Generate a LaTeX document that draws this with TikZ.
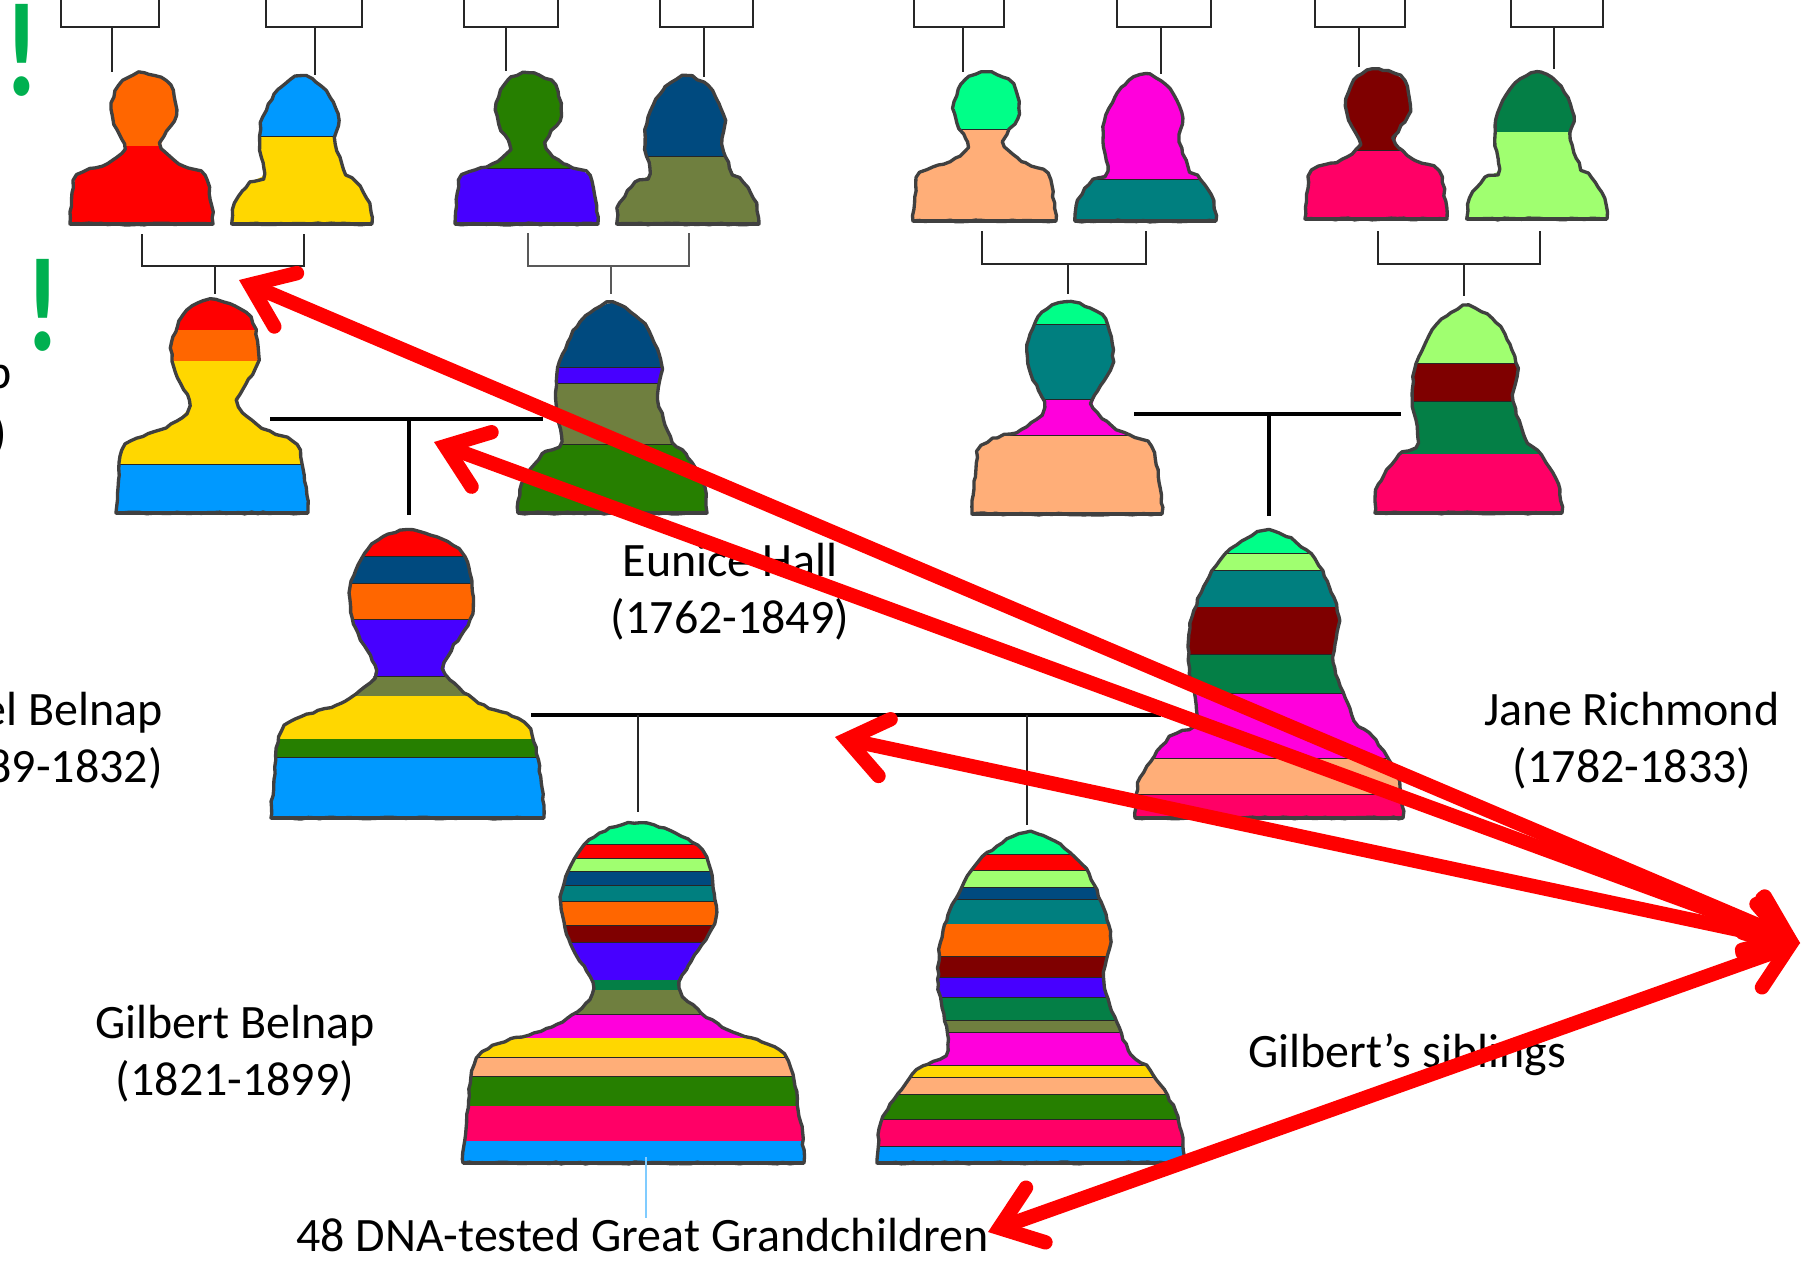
\documentclass[tikz,border=0pt]{standalone}
\usepackage{fontspec}
\setmainfont{Carlito}
\usetikzlibrary{arrows.meta,decorations.pathmorphing}

\definecolor{cRed}{HTML}{FF0000}
\definecolor{cOrange}{HTML}{FF6600}
\definecolor{cBlue}{HTML}{0099FF}
\definecolor{cYellow}{HTML}{FFD700}
\definecolor{cGreen}{HTML}{267F00}
\definecolor{cPurple}{HTML}{4700FF}
\definecolor{cNavy}{HTML}{004A7F}
\definecolor{cOlive}{HTML}{6F7F3F}
\definecolor{cMint}{HTML}{00FF88}
\definecolor{cMagenta}{HTML}{FF00DC}
\definecolor{cTan}{HTML}{FFAE78}
\definecolor{cTeal}{HTML}{007F7F}
\definecolor{cDkred}{HTML}{7F0000}
\definecolor{cPink}{HTML}{FF0066}
\definecolor{cDkgreen}{HTML}{047F46}
\definecolor{cLtgreen}{HTML}{A0FF70}
\definecolor{cExcl}{HTML}{00B050}

\def\malepath{plot[smooth] coordinates {(1,1) (.99,.88) (.94,.68) (.76,.60) (.64,.50) (.66,.42) (.74,.28) (.70,.08) (.52,0) (.37,.05) (.29,.20) (.31,.34) (.38,.47) (.36,.53) (.26,.60) (.05,.68) (.01,.88) (0,1)}}
\def\femalepath{plot[smooth] coordinates {(1,1) (.98,.86) (.89,.72) (.82,.66) (.74,.46) (.76,.30) (.67,.10) (.50,0) (.33,.09) (.22,.28) (.20,.46) (.23,.66) (.13,.72) (.02,.86) (0,1)}}

% name, outline, left, top, right, bottom, stripes (lower edge/colour)
\newcommand{\person}[7]{
  \coordinate (#1) at ({(#3+#5)/2},{(#4+#6)/2});
  \pgfmathsetlengthmacro{\pw}{(#5-#3)*0.02cm}
  \pgfmathsetlengthmacro{\ph}{(#4-#6)*0.02cm}
  \begin{scope}[shift={(#3,#4)}, x=\pw, y=\ph]
    \begin{scope}
      \clip #2 -- cycle;
      \foreach \f/\c [remember=\f as \p (initially 0)] in {#7}{
        \fill[\c] (-.1,\p) rectangle (1.1,\f);
        \draw[seam] (-.1,\f) -- (1.1,\f);
      }
    \end{scope}
    \draw[outline, rough] #2 -- cycle;
    \draw[outline, line width=2.3pt] (0,1) -- (1,1);
  \end{scope}
}

% name, left x, right x, stem x, top y, bar y, stem end y
\newcommand{\bracket}[8][link]{
  \coordinate (#2l) at (#3,#6);
  \coordinate (#2r) at (#4,#6);
  \coordinate (#2m) at (#5,#7);
  \coordinate (#2d) at (#5,#8);
  \draw[#1] (#2l) |- (#2m) -| (#2r);
  \draw[#1] (#2m) -- (#2d);
}

\begin{document}
\begin{tikzpicture}[x=0.02cm, y=-0.02cm,
    rough/.style = {decorate, decoration={random steps, segment length=3.5pt, amplitude=.55pt}},
    outline/.style = {draw=black!75, line width=1.9pt, line join=round},
    seam/.style = {draw=black!85, line width=.8pt},
    link/.style = {draw=black!85, line width=1.4pt},
    greylink/.style = {draw=black!65, line width=1.4pt},
    bar/.style = {draw=black, line width=2.3pt},
    stem/.style = {draw=black!85, line width=1.4pt},
    lbl/.style = {align=center, inner sep=0pt, font=\fontsize{27.3}{32.6}\selectfont},
    excl/.style = {inner sep=0pt, text=cExcl, font=\fontsize{76}{76}\selectfont\bfseries},
    pointer/.style = {draw=cRed, line width=8.2pt,
      {Straight Barb[length=22pt, width=33pt, line cap=round]}-{Straight Barb[length=22pt, width=33pt, line cap=round]}}]
  \pgfmathsetseed{2024}
  \useasboundingbox (0,0) rectangle (1806,1261);

  % top row
  \person{pa}{\malepath}{70}{73}{213}{224}{.486/cOrange, 1/cRed}
  \person{pb}{\femalepath}{232}{76}{372}{224}{.41/cBlue, 1/cYellow}
  \person{pc}{\malepath}{455}{73}{598}{224}{.635/cGreen, 1/cPurple}
  \person{pd}{\femalepath}{617}{76}{759}{224}{.544/cNavy, 1/cOlive}
  \person{pe}{\malepath}{913}{72}{1056}{221}{.39/cMint, 1/cTan}
  \person{pf}{\femalepath}{1075}{74}{1216}{221}{.72/cMagenta, 1/cTeal}
  \person{pg}{\malepath}{1305}{69}{1447}{219}{.547/cDkred, 1/cPink}
  \person{ph}{\femalepath}{1467}{72}{1607}{219}{.41/cDkgreen, 1/cLtgreen}

  \bracket{ta}{61}{159}{112}{-4}{27}{72}
  \bracket{tb}{266}{362}{315}{-4}{27}{75}
  \bracket{tc}{464}{558}{506}{-4}{27}{71}
  \bracket{td}{660}{753}{704}{-4}{27}{77}
  \bracket{te}{914}{1004}{963}{-4}{27}{72}
  \bracket{tf}{1117}{1211}{1161}{-4}{27}{74}
  \bracket{tg}{1315}{1405}{1359}{-4}{27}{67}
  \bracket{th}{1511}{1603}{1554}{-4}{27}{69}

  % second row
  \person{qa}{\malepath}{116}{300}{308}{513}{.142/cRed, .288/cOrange, .773/cYellow, 1/cBlue}
  \person{qb}{\femalepath}{518}{303}{707}{513}{.308/cNavy, .385/cPurple, .675/cOlive, 1/cGreen}
  \person{qc}{\malepath}{972}{302}{1162}{514}{.109/cMint, .463/cTeal, .63/cMagenta, 1/cTan}
  \person{qd}{\femalepath}{1375}{306}{1562}{513}{.28/cLtgreen, .463/cDkred, .717/cDkgreen, 1/cPink}

  \bracket{ua}{142}{304}{215}{234}{266}{294}
  \bracket[greylink]{ub}{528}{689}{611}{233}{266}{294}
  \bracket{uc}{982}{1146}{1068}{231}{264}{294}
  \bracket{ud}{1378}{1540}{1464}{231}{264}{296}

  % couples
  \coordinate (ma) at (270,419);
  \coordinate (mb) at (543,419);
  \coordinate (mc) at (409,419);
  \coordinate (md) at (409,515);
  \draw[bar] (ma) -- (mb);
  \draw[bar] (mc) -- (md);
  \coordinate (na) at (1134,414);
  \coordinate (nb) at (1401,414);
  \coordinate (nc) at (1269,414);
  \coordinate (nd) at (1269,516);
  \draw[bar] (na) -- (nb);
  \draw[bar] (nc) -- (nd);

  % third row
  \person{ra}{\malepath}{271}{530}{544}{818}{.093/cRed, .186/cNavy, .313/cOrange, .51/cPurple, .578/cOlive, .727/cYellow, .792/cGreen, 1/cBlue}
  \person{rb}{\femalepath}{1135}{530}{1403}{818}{.082/cMint, .143/cLtgreen, .269/cTeal, .434/cDkred, .569/cDkgreen, .794/cMagenta, .92/cTan, 1/cPink}

  \coordinate (sa) at (531,715);
  \coordinate (sb) at (1161,715);
  \coordinate (sc) at (638,715);
  \coordinate (sd) at (638,812);
  \coordinate (se) at (1027,715);
  \coordinate (sf) at (1027,825);
  \draw[bar] (sa) -- (sb);
  \draw[stem] (sc) -- (sd);
  \draw[stem] (se) -- (sf);

  % bottom row
  \person{wa}{\malepath}{463}{823}{804}{1163}{.064/cMint, .105/cRed, .144/cLtgreen, .184/cNavy, .232/cTeal, .302/cOrange, .353/cDkred, .463/cPurple, .492/cDkgreen, .564/cOlive, .633/cMagenta, .691/cYellow, .747/cTan, .833/cGreen, .936/cPink, 1/cBlue}
  \person{wb}{\femalepath}{877}{832}{1184}{1163}{.07/cMint, .118/cRed, .168/cLtgreen, .206/cNavy, .279/cTeal, .378/cOrange, .441/cDkred, .5/cPurple, .57/cDkgreen, .607/cOlive, .706/cMagenta, .742/cYellow, .794/cTan, .869/cGreen, .952/cPink, 1/cBlue}

  % labels
  \node[lbl, anchor=east] (cutp) at (12,381) {p};
  \node[lbl, anchor=east] (cutb) at (7,435) {)};
  \node[lbl] (eunice) at (730,592) {Eunice Hall\\(1762-1849)};
  \node[lbl, anchor=east, align=right] (abel) at (163,741) {el Belnap\\89-1832)};
  \node[lbl] (jane) at (1632,741) {Jane Richmond\\(1782-1833)};
  \node[lbl] (gilbert) at (235,1054) {Gilbert Belnap\\(1821-1899)};
  \node[lbl] (sibs) at (1407,1055) {Gilbert’s siblings};
  \node[lbl, anchor=west] (dna) at (296,1235) {48 DNA-tested Great Grandchildren};
  \node[excl] (exa) at (22,50) {\scalebox{.8}[1]{!}};
  \node[excl] (exb) at (43,305) {\scalebox{.8}[1]{!}};

  \coordinate (blu) at (646,1157);
  \draw[draw=cBlue!50!white, line width=.7pt] (blu) -- (dna.north -| blu);

  % pointers
  \coordinate (hub) at (1800,943);
  \coordinate (tipa) at (239,280);
  \coordinate (tipb) at (434,442);
  \coordinate (tipc) at (835,737);
  \coordinate (tipd) at (988,1232);
  \draw[pointer] (hub) -- (tipa);
  \draw[pointer] (hub) -- (tipb);
  \draw[pointer] (hub) -- (tipc);
  \draw[pointer] (hub) -- (tipd);
\end{tikzpicture}
\end{document}
